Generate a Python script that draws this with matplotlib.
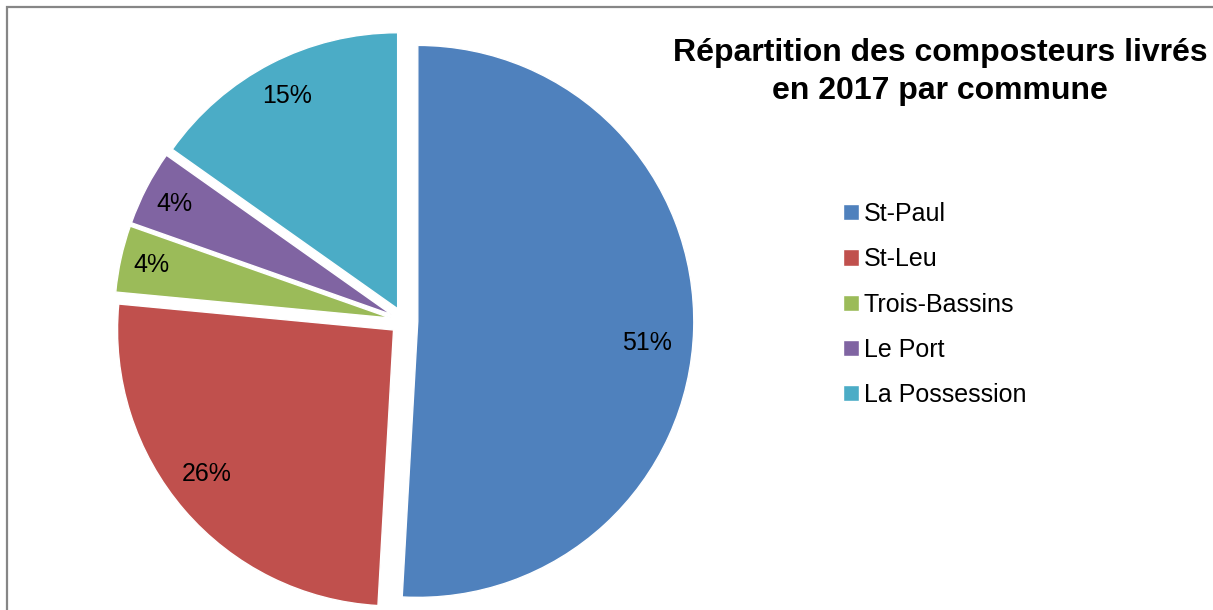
import matplotlib
matplotlib.use("Agg")
import numpy as np
import matplotlib.pyplot as plt
from matplotlib.patches import Rectangle

plt.rcParams['font.family'] = ['Liberation Sans', 'DejaVu Sans']

# données (parts en %)
communes = ['St-Paul', 'St-Leu', 'Trois-Bassins', 'Le Port', 'La Possession']
parts = [50.9, 25.6, 3.9, 4.4, 15.2]
couleurs = ['#4F81BD', '#C0504D', '#9BBB59', '#8064A2', '#4BACC6']
titre = 'Répartition des composteurs livrés\nen 2017 par commune'

W, H = 1213, 610
fig = plt.figure(figsize=(W / 100, H / 100), dpi=100)

# cadre gris (haut et gauche visibles, le reste hors image)
fig.patches.append(Rectangle((7 / W, -0.1), 1.2, 1 - 7 / H + 0.1,
                             transform=fig.transFigure, fill=False,
                             edgecolor='#868686', linewidth=1.6))

# axe carré centré sur le camembert
cx, cy, R = 404, 321, 276
half = 300
explode = 0.05
ax = fig.add_axes([(cx - half) / W, (H - cy - half) / H, 2 * half / W, 2 * half / H])
wedges, texts, autotexts = ax.pie(
    parts, colors=couleurs, startangle=90, counterclock=False,
    explode=[explode] * len(parts), autopct=lambda p: f'{p:.0f}%',
    pctdistance=0.85, radius=1,
    wedgeprops=dict(edgecolor='white', linewidth=1),
    textprops=dict(fontsize=18, color='black'))

# placement des étiquettes façon Excel
dist = [0.835, 0.855, 0.886, 0.882, 0.869]
decal = [-3.7, -3.2, 0.0, 0.4, 0.1]  # degrés
for w, t, d, da in zip(wedges, autotexts, dist, decal):
    mid = np.deg2rad((w.theta1 + w.theta2) / 2)
    a = mid + np.deg2rad(da)
    x0, y0 = explode * np.cos(mid), explode * np.sin(mid)
    t.set_position((x0 + d * np.cos(a), y0 + d * np.sin(a)))

L = half / R
ax.set_xlim(-L, L)
ax.set_ylim(-L, L)
ax.set_aspect('equal')

fig.text(940 / W, 1 - 72 / H, titre, ha='center', va='center', fontsize=23,
         fontweight='bold', linespacing=1.36)

fig.legend(wedges, communes, loc='upper left', bbox_to_anchor=(833 / W, 1 - 192 / H),
           frameon=False, fontsize=18, handlelength=0.62, handleheight=0.62,
           handletextpad=0.2, labelspacing=0.85, borderaxespad=0)

fig.savefig('out.png', dpi=100)
